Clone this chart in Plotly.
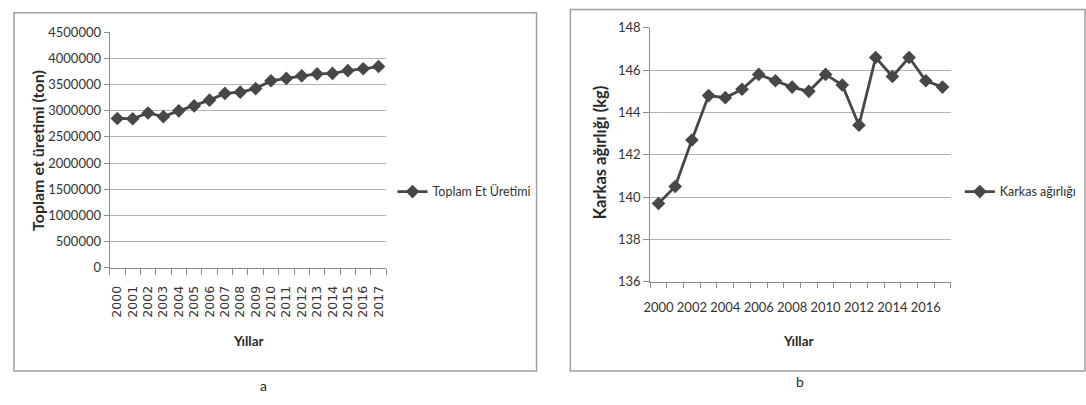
import plotly.graph_objects as go

W, H = 1086, 405

years = [2000, 2001, 2002, 2003, 2004, 2005, 2006, 2007, 2008,
         2009, 2010, 2011, 2012, 2013, 2014, 2015, 2016, 2017]
toplam_et = [2850000, 2845000, 2955000, 2885000, 2995000, 3090000, 3200000, 3328000, 3352000,
             3420000, 3570000, 3615000, 3663000, 3700000, 3710000, 3762000, 3798000, 3841000]
karkas = [139.7, 140.5, 142.7, 144.8, 144.7, 145.1, 145.8, 145.5, 145.2,
          145.0, 145.8, 145.3, 143.4, 146.6, 145.7, 146.6, 145.5, 145.2]

left_yticks = [0, 500000, 1000000, 1500000, 2000000, 2500000, 3000000, 3500000, 4000000, 4500000]
right_yticks = [136, 138, 140, 142, 144, 146, 148]
right_xticks = [2000, 2002, 2004, 2006, 2008, 2010, 2012, 2014, 2016]

LINE = "#474747"
GRID = "#b4b4b4"
AXIS = "#8c8c8c"
TXT = "#333333"
FONT = "Lato"

def px(x):
    return x / W

def py(y):
    return 1 - y / H

fig = go.Figure()
fig.add_trace(go.Scatter(
    x=years, y=toplam_et, mode="lines+markers", name="Toplam Et Üretimi",
    line=dict(color=LINE, width=2.8), marker=dict(symbol="diamond", size=10.5, color=LINE),
    xaxis="x", yaxis="y", legend="legend"))
fig.add_trace(go.Scatter(
    x=years, y=karkas, mode="lines+markers", name="Karkas ağırlığı",
    line=dict(color=LINE, width=2.8), marker=dict(symbol="diamond", size=10.5, color=LINE),
    xaxis="x2", yaxis="y2", legend="legend2"))

tickfont = dict(family=FONT, size=13, color=TXT)

fig.update_layout(
    width=W, height=H, autosize=False,
    margin=dict(l=0, r=0, t=0, b=0),
    paper_bgcolor="white", plot_bgcolor="white",
    showlegend=True,
    xaxis=dict(
        domain=[px(103.3), px(381.7)], anchor="y",
        range=[1999.5, 2017.5], tickmode="array", tickvals=years,
        ticktext=[str(v) for v in years],
        tickangle=-90, ticks="", ticklabelstandoff=12,
        tickfont=dict(family="DejaVu Sans", size=12.5, color=TXT),
        showgrid=False, zeroline=False,
        showline=True, linecolor=AXIS, linewidth=1,
        minor=dict(ticks="outside", tick0=1999.5, dtick=1, ticklen=6,
                   tickcolor=AXIS, tickwidth=1, showgrid=False),
    ),
    yaxis=dict(
        domain=[py(270.5), py(25)], anchor="x",
        range=[0, 4500000], tickmode="array", tickvals=left_yticks,
        ticktext=[str(v) for v in left_yticks],
        ticks="outside", ticklen=5, tickcolor=AXIS, tickfont=tickfont,
        showgrid=True, gridcolor=GRID, gridwidth=1, zeroline=False,
        showline=True, linecolor=AXIS, linewidth=1,
    ),
    xaxis2=dict(
        domain=[px(647.3), px(950)], anchor="y2",
        range=[1999.5, 2017.5], tickmode="array", tickvals=right_xticks,
        ticktext=[str(v) for v in right_xticks],
        ticks="", ticklabelstandoff=14, tickfont=tickfont,
        showgrid=False, zeroline=False,
        showline=True, linecolor=AXIS, linewidth=1,
        minor=dict(ticks="outside", tick0=1999.5, dtick=1, ticklen=5,
                   tickcolor=AXIS, tickwidth=1, showgrid=False),
    ),
    yaxis2=dict(
        domain=[py(285), py(20.7)], anchor="x2",
        range=[136, 148], tickmode="array", tickvals=right_yticks,
        ticktext=[str(v) for v in right_yticks],
        ticks="outside", ticklen=6, tickcolor=AXIS, tickfont=tickfont,
        showgrid=True, gridcolor=GRID, gridwidth=1, zeroline=False,
        showline=True, linecolor=AXIS, linewidth=1,
    ),
    legend=dict(x=px(388), y=py(191.5), xanchor="left", yanchor="middle",
                bgcolor="rgba(0,0,0,0)", borderwidth=0,
                font=dict(family=FONT, size=12.5, color=TXT)),
    legend2=dict(x=px(959), y=py(191.5), xanchor="left", yanchor="middle",
                 bgcolor="rgba(0,0,0,0)", borderwidth=0,
                 font=dict(family=FONT, size=12.5, color=TXT)),
)

# panel borders
fig.add_shape(type="rect", xref="paper", yref="paper",
              x0=px(7), x1=px(533), y0=py(378), y1=py(5),
              line=dict(color="#a0a0a0", width=1.5), layer="below")
fig.add_shape(type="rect", xref="paper", yref="paper",
              x0=px(567), x1=px(1085), y0=py(378), y1=py(1.5),
              line=dict(color="#a0a0a0", width=1.5), layer="below")

annotations = [
    dict(text="<b>Toplam et üretimi (ton)</b>", x=px(30), y=py(148), textangle=-90, size=16),
    dict(text="<b>Karkas ağırlığı (kg)</b>", x=px(597), y=py(150), textangle=-90, size=16.5),
    dict(text="<b>Yıllar</b>", x=px(243), y=py(347), size=13.5),
    dict(text="<b>Yıllar</b>", x=px(797), y=py(347), size=13.5),
]
for a in annotations:
    size = a.pop("size")
    fig.add_annotation(xref="paper", yref="paper", showarrow=False,
                       xanchor="center", yanchor="middle",
                       font=dict(family=FONT, size=size, color="#2a2a2a"), **a)
fig.add_annotation(text="a", xref="paper", yref="paper", x=px(258), y=py(393),
                   showarrow=False, xanchor="center", yanchor="middle",
                   font=dict(family=FONT, size=14, color="#2a2a2a"))
fig.add_annotation(text="b", xref="paper", yref="paper", x=px(798), y=py(389),
                   showarrow=False, xanchor="center", yanchor="middle",
                   font=dict(family=FONT, size=14, color="#2a2a2a"))

fig.write_html("out.html", config={"displayModeBar": False},
               post_script="document.body.style.margin='0';document.body.style.overflow='hidden';")
